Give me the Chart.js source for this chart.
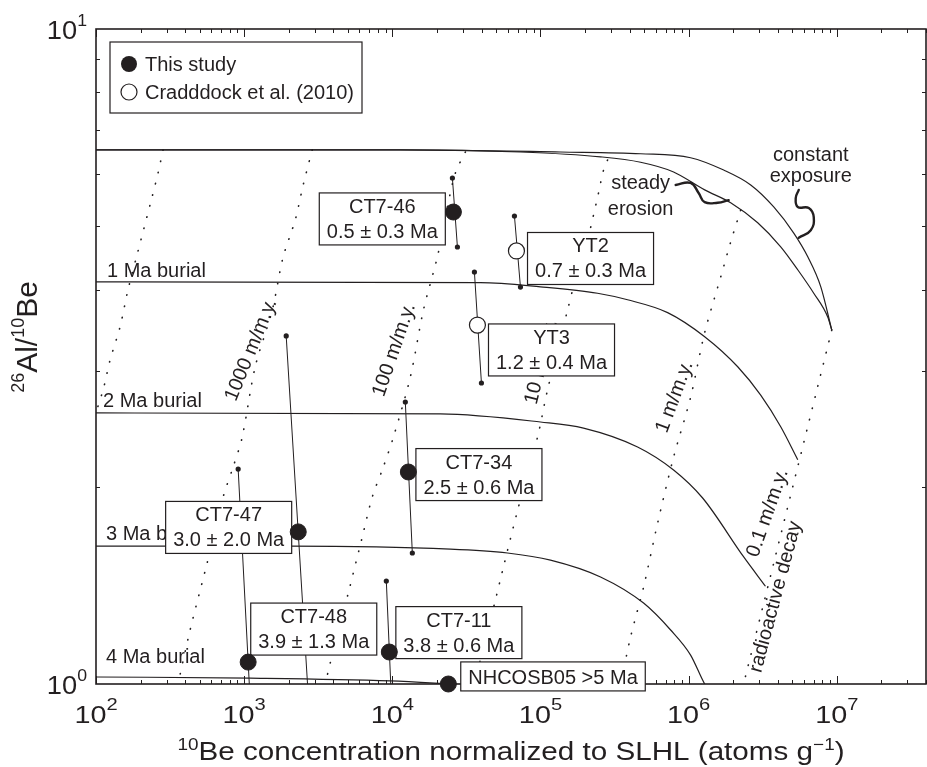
<!DOCTYPE html>
<html>
<head>
<meta charset="utf-8">
<script src="https://cdn.jsdelivr.net/npm/chart.js@4"></script>
<style>
  body { margin: 0; background: #fff; }
  canvas { display: block; }
</style>
</head>
<body>
<canvas id="chart" width="927" height="767"></canvas>
<script>
// 26Al/10Be gegen 10Be-Konzentration (Burial-Diagramm, log-log)
const ink = '#231f20';
const font = '"Liberation Sans", Arial, Helvetica, sans-serif';

// Konstante Exposition und stetige Erosion
const exposureX = [100, 11330, 136500, 474000, 1.031e6, 1.724e6, 2.624e6, 3.753e6, 5.123e6, 6.37e6, 7.80e6, 9.25e6];
const exposureY = [6.54, 6.54, 6.49, 6.45, 6.36, 6.09, 5.78, 5.35, 4.88, 4.49, 4.04, 3.47];
const erosionX = [100, 11330, 73250, 254300, 474000, 791500, 1.283e6, 1.922e6, 2.926e6, 4.183e6, 5.45e6, 6.99e6, 8.70e6, 9.25e6];
const erosionY = [6.54, 6.54, 6.49, 6.38, 6.26, 6.05, 5.68, 5.43, 5.06, 4.65, 4.29, 3.95, 3.63, 3.47];

// Burial-Isochronen (1-4 Ma)
const burial1X = [100, 39330, 100000, 242700, 387000, 721400, 1.283e6, 2.144e6, 3.065e6, 4.183e6, 5.45e6];
const burial1Y = [4.11, 4.10, 4.04, 3.95, 3.86, 3.69, 3.39, 3.05, 2.76, 2.47, 2.20];
const burial2X = [100, 21100, 100000, 195200, 452300, 791500, 1.243e6, 2.353e6, 3.3e6];
const burial2Y = [2.593, 2.584, 2.512, 2.459, 2.301, 2.122, 1.923, 1.563, 1.41];
const burial3X = [100, 2046, 24660, 59840, 116800, 254300, 496500, 755900, 1.031e6, 1.283e6, 1.453e6];
const burial3Y = [1.624, 1.624, 1.607, 1.585, 1.546, 1.457, 1.329, 1.209, 1.107, 1.0, 0.962];
const burial4X = [100, 1098, 9694, 24660, 73250];
const burial4Y = [1.025, 1.021, 1.011, 1.0, 0.986];

// Erosionsraten (gepunktet)
const rateAX = [283.6, 262.4, 239, 189.2, 164.5, 145.3, 124.3, 111.5, 91.1];
const rateAY = [6.54, 6.03, 5.54, 4.52, 4.00, 3.51, 3.12, 2.81, 2.44];
const rate1000X = [2880, 2503, 2211, 1834, 1546, 1187, 969.4, 842.6, 721.4, 562.3, 431.6, 344.5];
const rate1000Y = [6.54, 5.78, 5.11, 4.49, 3.72, 3.05, 2.38, 2.145, 1.930, 1.530, 1.209, 0.962];
const rate100X = [31130, 26650, 23530, 20150, 16200, 13230, 10160, 8696, 7325, 6270, 5044, 3812, 3386];
const rate100Y = [6.49, 6.03, 5.35, 4.49, 3.72, 2.943, 2.38, 2.145, 1.930, 1.677, 1.377, 1.077, 0.962];
const rate10X = [283600, 266500, 246500, 217700, 195200, 167100, 152200, 111500, 95440, 71020, 56230, 49650, 34190];
const rate10Y = [6.31, 6.09, 5.62, 4.97, 4.49, 4.04, 3.72, 2.81, 2.38, 1.863, 1.509, 1.344, 0.962];
const rate1X = [2.245e6, 1.922e6, 1.645e6, 1.283e6, 1.031e6, 791500, 617300, 496500, 405600, 347100, 331400];
const rate1Y = [5.29, 4.73, 4.18, 3.44, 2.74, 2.22, 1.76, 1.406, 1.180, 1.0, 0.962];
const decayX = [9.25e6, 2.22e6];
const decayY = [3.47, 0.95];

// Proben
const studyNames = ['CT7-46', 'CT7-34', 'CT7-47', 'CT7-48', 'CT7-11', 'NHCOSB05'];
const studyAges = ['0.5 ± 0.3 Ma', '2.5 ± 0.6 Ma', '3.0 ± 2.0 Ma', '3.9 ± 1.3 Ma', '3.8 ± 0.6 Ma', '>5 Ma'];
const studyBe = [25840, 12830, 2317, 1064, 9544, 23890];
const studyRatio = [5.255, 2.107, 1.707, 1.080, 1.119, 1.0];
const studyUpBe = [25440, 12240, 1922, 911, 9110, null];
const studyUpRatio = [5.923, 2.695, 3.399, 2.129, 1.436, null];
const studyLowBe = [27500, 13650, 2771, 1115, 10000, null];
const studyLowRatio = [4.647, 1.585, 0.881, 0.881, 0.881, null];

const craddockNames = ['YT2', 'YT3'];
const craddockAges = ['0.7 ± 0.3 Ma', '1.2 ± 0.4 Ma'];
const craddockBe = [68830, 37530];
const craddockRatio = [4.583, 3.532];
const craddockUpBe = [66720, 35820];
const craddockUpRatio = [5.182, 4.256];
const craddockLowBe = [73250, 39940];
const craddockLowRatio = [4.037, 2.881];

// Beschriftungen (Datenkoordinaten)
const studyBoxX = [8558, 38420, 785.9, 2949, 28130, 121500];
const studyBoxY = [5.129, 2.088, 1.734, 1.213, 1.198, 1.027];
const craddockBoxX = [217700, 118700];
const craddockBoxY = [4.463, 3.236];

const burialLabels = ['1 Ma burial', '2 Ma burial', '3 Ma burial', '4 Ma burial'];
const burialLabelX = [118.6, 111.5, 116.8, 116.8];
const burialLabelY = [4.18, 2.648, 1.659, 1.077];

const rateLabels = ['1000 m/m.y.', '100 m/m.y.', '10 m/m.y.', '1 m/m.y.', '0.1 m/m.y.', 'radioactive decay'];
const rateLabelX = [1115, 10320, 101600, 804300, 3.419e6, 3.871e6];
const rateLabelY = [3.236, 3.236, 3.10, 2.743, 1.824, 1.358];
const rateLabelAngle = [-67.7, -71, -76, -69.5, -70.6, -75];

const curveNotes = [['steady', 'erosion'], ['constant', 'exposure']];
const curveNoteX = [474000, 6.673e6];
const curveNoteY = [[5.70, 5.20], [6.29, 5.84]];
const steadyLeadX = [817000, 1.031e6, 1.168e6, 1.283e6, 1.570e6, 1.863e6];
const steadyLeadY = [5.78, 5.82, 5.62, 5.44, 5.43, 5.48];
const constLeadX = [5.537e6, 5.284e6, 5.45e6, 6.47e6, 6.99e6, 6.673e6, 5.537e6];
const constLeadY = [5.68, 5.52, 5.35, 5.33, 5.16, 4.93, 4.80];

const pts = (xs, ys) => xs.map((v, i) => ({ x: v, y: ys[i] }));

function curve(xs, ys) {
  return { data: pts(xs, ys), showLine: true, borderColor: ink, borderWidth: 1.2,
    pointRadius: 0, cubicInterpolationMode: 'monotone', fill: false };
}
function dotted(xs, ys) {
  return { data: pts(xs, ys), showLine: true, borderColor: ink, borderWidth: 1.6,
    borderDash: [0.5, 11], borderCapStyle: 'round', pointRadius: 0, tension: 0.3, fill: false };
}
function squiggle(xs, ys) {
  return { data: pts(xs, ys), showLine: true, borderColor: ink, borderWidth: 2.4,
    borderCapStyle: 'round', pointRadius: 0, tension: 0.45, fill: false };
}
function errorBar(x1, y1, x2, y2) {
  return { data: [{ x: x1, y: y1 }, { x: x2, y: y2 }], showLine: true, borderColor: ink,
    borderWidth: 1, pointRadius: 2.6, pointBackgroundColor: ink, pointBorderWidth: 0 };
}

const datasets = [
  { label: 'This study', data: pts(studyBe, studyRatio), pointRadius: 8,
    pointBackgroundColor: ink, pointBorderColor: ink, pointBorderWidth: 1, clip: false },
  { label: 'Cradddock et al. (2010)', data: pts(craddockBe, craddockRatio), pointRadius: 8,
    pointBackgroundColor: '#fff', pointBorderColor: ink, pointBorderWidth: 1.2, clip: false }
];
studyNames.forEach((n, i) => {
  if (studyUpBe[i] !== null) datasets.push(errorBar(studyUpBe[i], studyUpRatio[i], studyLowBe[i], studyLowRatio[i]));
});
craddockNames.forEach((n, i) => {
  datasets.push(errorBar(craddockUpBe[i], craddockUpRatio[i], craddockLowBe[i], craddockLowRatio[i]));
});
datasets.push(
  curve(exposureX, exposureY), curve(erosionX, erosionY),
  curve(burial1X, burial1Y), curve(burial2X, burial2Y), curve(burial3X, burial3Y), curve(burial4X, burial4Y),
  dotted(rateAX, rateAY), dotted(rate1000X, rate1000Y), dotted(rate100X, rate100Y),
  dotted(rate10X, rate10Y), dotted(rate1X, rate1Y), dotted(decayX, decayY),
  squiggle(steadyLeadX, steadyLeadY), squiggle(constLeadX, constLeadY)
);

// Text mit Hochstellungen: parts = [[text, hoch?], ...]
function richText(ctx, parts, x, y, size, o) {
  const supSize = size * (o.supScale || 0.64);
  ctx.save();
  ctx.translate(x, y);
  if (o.rot) ctx.rotate(o.rot);
  ctx.scale(o.sx || 1, o.sy || 1);
  const widths = parts.map(([t, sup]) => {
    ctx.font = `${sup ? supSize : size}px ${font}`;
    return ctx.measureText(t).width;
  });
  const total = widths.reduce((a, b) => a + b, 0);
  let cx = o.align === 'right' ? -total : o.align === 'left' ? 0 : -total / 2;
  ctx.fillStyle = ink;
  ctx.textAlign = 'left';
  ctx.textBaseline = 'alphabetic';
  parts.forEach(([t, sup], i) => {
    ctx.font = `${sup ? supSize : size}px ${font}`;
    ctx.fillText(t, cx, sup ? -size * (o.supRaise || 0.42) : 0);
    cx += widths[i];
  });
  ctx.restore();
}

function boxNote(ctx, lines, cx, cy) {
  ctx.font = `20px ${font}`;
  const w = Math.max(...lines.map(t => ctx.measureText(t).width)) + 15;
  const h = lines.length === 2 ? 52 : 29;
  ctx.fillStyle = '#fff';
  ctx.fillRect(cx - w / 2, cy - h / 2, w, h);
  ctx.strokeStyle = ink;
  ctx.lineWidth = 1.2;
  ctx.strokeRect(cx - w / 2, cy - h / 2, w, h);
  ctx.fillStyle = ink;
  ctx.textAlign = 'center';
  ctx.textBaseline = 'alphabetic';
  if (lines.length === 2) {
    ctx.fillText(lines[0], cx, cy - 6);
    ctx.fillText(lines[1], cx, cy + 19);
  } else {
    ctx.fillText(lines[0], cx, cy + 8);
  }
}

const annotate = {
  id: 'annotate',
  beforeDatasetsDraw(chart) {
    const { ctx, chartArea: a, scales: { x, y } } = chart;
    ctx.save();
    ctx.strokeStyle = ink;
    // Ticks (nach innen, alle vier Seiten)
    ctx.lineWidth = 1;
    ctx.beginPath();
    for (let e = 2; e <= 7; e++) {
      for (let m = 1; m <= 9; m++) {
        const v = m * Math.pow(10, e);
        if (v > x.max) break;
        const px = Math.round(x.getPixelForValue(v)) + 0.5;
        const len = m === 1 ? 8 : 4;
        ctx.moveTo(px, a.bottom); ctx.lineTo(px, a.bottom - len);
        ctx.moveTo(px, a.top); ctx.lineTo(px, a.top + len);
      }
    }
    for (let m = 2; m <= 9; m++) {
      const py = Math.round(y.getPixelForValue(m)) + 0.5;
      ctx.moveTo(a.left, py); ctx.lineTo(a.left + 4, py);
      ctx.moveTo(a.right, py); ctx.lineTo(a.right - 4, py);
    }
    ctx.stroke();
    // Rahmen
    ctx.lineWidth = 1.6;
    ctx.strokeRect(a.left, a.top, a.right - a.left, a.bottom - a.top);
    ctx.restore();
  },
  beforeDatasetDraw(chart, args) {
    if (args.index !== 1) return;
    const { ctx, scales: { x, y } } = chart;
    ctx.save();
    ctx.fillStyle = ink;
    ctx.font = `20px ${font}`;
    // Raten-Beschriftungen
    ctx.textAlign = 'center';
    ctx.textBaseline = 'middle';
    rateLabels.forEach((t, i) => {
      ctx.save();
      ctx.translate(x.getPixelForValue(rateLabelX[i]), y.getPixelForValue(rateLabelY[i]));
      ctx.rotate(rateLabelAngle[i] * Math.PI / 180);
      ctx.fillText(t, 0, 0);
      ctx.restore();
    });
    // Kurvenbeschriftungen
    ctx.textBaseline = 'alphabetic';
    curveNotes.forEach((ls, i) => {
      ls.forEach((t, j) => ctx.fillText(t, x.getPixelForValue(curveNoteX[i]), y.getPixelForValue(curveNoteY[i][j])));
    });
    ctx.textAlign = 'left';
    burialLabels.forEach((t, i) => {
      ctx.fillText(t, x.getPixelForValue(burialLabelX[i]), y.getPixelForValue(burialLabelY[i]));
    });
    // Kästen
    studyNames.forEach((n, i) => {
      const lines = n === 'NHCOSB05' ? [n + ' ' + studyAges[i]] : [n, studyAges[i]];
      boxNote(ctx, lines, x.getPixelForValue(studyBoxX[i]), y.getPixelForValue(studyBoxY[i]));
    });
    craddockNames.forEach((n, i) => {
      boxNote(ctx, [n, craddockAges[i]], x.getPixelForValue(craddockBoxX[i]), y.getPixelForValue(craddockBoxY[i]));
    });
    ctx.restore();
  },
  afterDraw(chart) {
    const { ctx, chartArea: a, scales: { x, y } } = chart;
    ctx.save();
    ctx.strokeStyle = ink;

    // Tick-Beschriftungen
    for (let e = 2; e <= 7; e++) {
      richText(ctx, [['10', false], [String(e), true]], x.getPixelForValue(Math.pow(10, e)), a.bottom + 39, 24,
        { sx: 1.2, supScale: 0.7, supRaise: 0.55 });
    }
    [0, 1].forEach(e => {
      richText(ctx, [['10', false], [String(e), true]], a.left - 9, y.getPixelForValue(Math.pow(10, e)) + 10, 26,
        { align: 'right', sx: 1.05, supScale: 0.65, supRaise: 0.5 });
    });

    // Achsentitel
    richText(ctx, [['10', true], ['Be concentration normalized to SLHL (atoms g', false], ['\u22121', true], [')', false]],
      (a.left + a.right) / 2, a.bottom + 76, 26, { sx: 1.14, supScale: 0.64, supRaise: 0.4 });
    richText(ctx, [['26', true], ['Al/', false], ['10', true], ['Be', false]],
      a.left - 59, 337, 30, { rot: -Math.PI / 2, supScale: 0.6, supRaise: 0.42 });

    // Legende
    const lx = a.left + 14, ly = a.top + 13;
    ctx.fillStyle = '#fff';
    ctx.fillRect(lx, ly, 252, 71);
    ctx.lineWidth = 1.2;
    ctx.strokeRect(lx, ly, 252, 71);
    ctx.beginPath();
    ctx.arc(lx + 19, ly + 22, 8, 0, Math.PI * 2);
    ctx.fillStyle = ink;
    ctx.fill();
    ctx.beginPath();
    ctx.arc(lx + 19, ly + 50, 8, 0, Math.PI * 2);
    ctx.stroke();
    ctx.font = `20px ${font}`;
    ctx.textAlign = 'left';
    ctx.textBaseline = 'middle';
    ctx.fillText(chart.data.datasets[0].label, lx + 35, ly + 23);
    ctx.fillText(chart.data.datasets[1].label, lx + 35, ly + 51);
    ctx.restore();
  }
};

new Chart(document.getElementById('chart'), {
  type: 'scatter',
  data: { datasets },
  options: {
    responsive: false,
    animation: false,
    events: [],
    layout: { autoPadding: false, padding: { left: 96, right: 1, top: 29, bottom: 83 } },
    scales: {
      x: { type: 'logarithmic', min: 100, max: 4e7, display: false },
      y: { type: 'logarithmic', min: 1, max: 10, display: false }
    },
    plugins: { legend: { display: false }, tooltip: { enabled: false } }
  },
  plugins: [annotate]
});
</script>
</body>
</html>
